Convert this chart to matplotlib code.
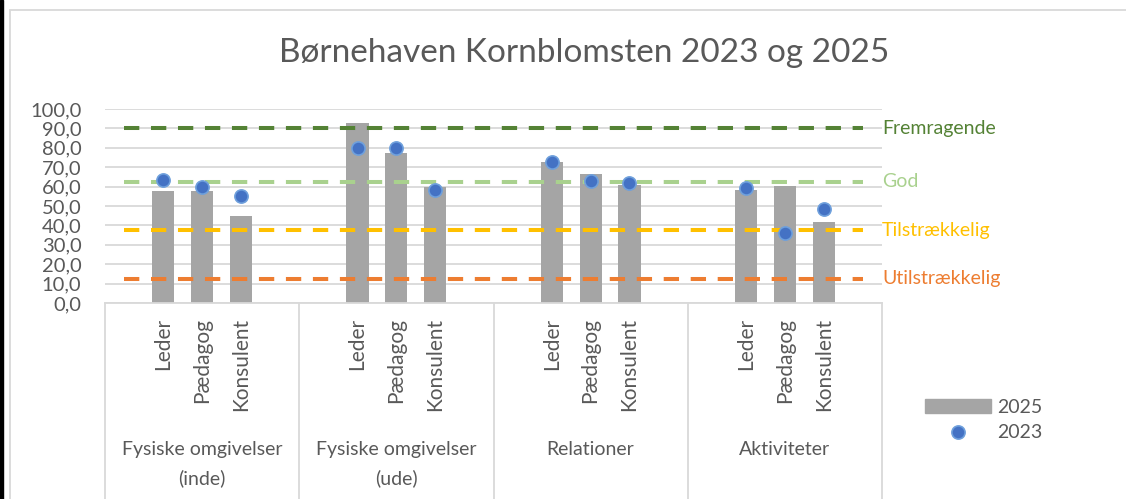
import matplotlib
matplotlib.use("Agg")
import matplotlib.pyplot as plt
from matplotlib.patches import Patch, Rectangle
from matplotlib.lines import Line2D
from matplotlib.transforms import blended_transform_factory

plt.rcParams["font.family"] = ["Lato", "DejaVu Sans"]

# data
groups = ["Fysiske omgivelser\n(inde)", "Fysiske omgivelser\n(ude)", "Relationer", "Aktiviteter"]
roles = ["Leder", "Pædagog", "Konsulent"]
v2025 = [57.5, 57.5, 45.0, 92.6, 77.5, 60.0, 72.6, 66.6, 60.9, 58.0, 60.2, 41.7]
v2023 = [63.3, 60.0, 55.1, 80.1, 80.1, 58.3, 72.6, 63.0, 62.1, 59.3, 36.0, 48.2]
levels = ["Fremragende", "God", "Tilstrækkelig", "Utilstrækkelig"]
level_vals = [90.0, 62.5, 37.5, 12.5]
level_cols = ["#548235", "#A9D18E", "#FFC000", "#ED7D31"]

txt = "#595959"
grid = "#D9D9D9"

# every group has 5 slots: blank, three roles, blank
slots = 5
xs = [g * slots + 1 + r for g in range(len(groups)) for r in range(len(roles))]
n_slots = slots * len(groups)

fig = plt.figure(figsize=(11.26, 4.99), dpi=100)
ax = fig.add_axes([105 / 1126, 1 - 303 / 499, 777 / 1126, 194 / 499])

ax.bar(xs, v2025, width=0.57, color="#A5A5A5", zorder=2)
for val, col in zip(level_vals, level_cols):
    ax.plot([0, n_slots - 1], [val, val], color=col, lw=2.9, dashes=(3.8, 2.9), zorder=3)
ax.plot(xs, v2023, "o", ms=9.5, color="#4472C4", mec="#6FA0DC", mew=1.2, zorder=4)

ax.set_xlim(-0.5, n_slots - 0.5)
ax.set_ylim(0, 100)
ax.set_yticks(range(0, 101, 10))
ax.set_yticklabels([f"{v:.1f}".replace(".", ",") for v in range(0, 101, 10)])
ax.tick_params(axis="y", length=0, pad=17, labelsize=14.5, labelcolor=txt)
ax.set_xticks([])
ax.grid(axis="y", color=grid, lw=1.3, zorder=0)
for s in ["top", "right", "left"]:
    ax.spines[s].set_visible(False)
ax.spines["bottom"].set_color(grid)
ax.spines["bottom"].set_linewidth(1.3)

# labels on the right
for name, val, col in zip(levels, level_vals, level_cols):
    ax.text(n_slots - 0.5, val, name, color=col, fontsize=14, va="center", ha="left", clip_on=False)

# category axis
tr = blended_transform_factory(ax.transData, fig.transFigure)
for x, i in zip(xs, range(len(xs))):
    ax.text(x, 1 - 318 / 499, roles[i % 3], rotation=90, ha="center", va="top",
            fontsize=15, color=txt, transform=tr)
for g, name in enumerate(groups):
    ax.text(g * slots + (slots - 1) / 2, 1 - 441 / 499, name, ha="center", va="top",
            fontsize=14, color=txt, transform=tr, linespacing=1.75)
for g in range(len(groups) + 1):
    fig.add_artist(Line2D([g * slots - 0.5] * 2, [0, 1 - 303 / 499], color=grid, lw=1.3, transform=tr))

fig.text(584 / 1126, 1 - 53 / 499, "Børnehaven Kornblomsten 2023 og 2025", ha="center", va="center",
         fontsize=24, color=txt)

handles = [Patch(color="#A5A5A5"),
           Line2D([], [], ls="", marker="o", ms=9.5, color="#4472C4", mec="#6FA0DC", mew=1.2)]
fig.legend(handles, ["2025", "2023"], loc="upper left", bbox_to_anchor=(915 / 1126, 1 - 389 / 499),
           frameon=False, fontsize=14, labelcolor=txt, handlelength=3.4, handleheight=0.75,
           handletextpad=0.35, labelspacing=0.45, borderpad=0)

# chart border and black strip on the left
fig.add_artist(Rectangle((9.5 / 1126, -0.1), 1.2, 1 - 10 / 499 + 0.1, fill=False, ec=grid, lw=1.3,
                         transform=fig.transFigure))
fig.add_artist(Rectangle((0, 0), 3 / 1126, 1, color="black", transform=fig.transFigure))

fig.savefig("out.png", dpi=100)
